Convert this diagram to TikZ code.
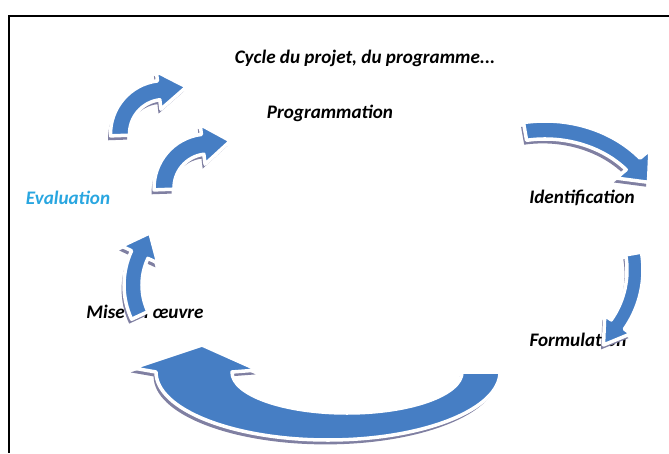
\documentclass[tikz,border=0pt]{standalone}
\usepackage{fontspec}
\setmainfont{Carlito}
\usetikzlibrary{calc}

\definecolor{cycleblue}{RGB}{70,126,196}
\definecolor{cycleshade}{RGB}{128,128,162}
\definecolor{evalblue}{RGB}{41,166,224}

% centre x, centre y, x radius, y radius, half width, start, end, head half width, head length
\newcommand{\cyclearrow}[9]{%
  \path[arrowbody] (#1,#2) ++(#6:{#3+#5} and {#4+#5})
    arc[start angle=#6, end angle=#7, x radius={#3+#5}, y radius={#4+#5}]
    -- ($(#1,#2)+(#7:{#3+#8} and {#4+#8})$)
    -- ($(#1,#2)+(#7:#3 and #4)+(#7+90:#9)$)
    -- ($(#1,#2)+(#7:{#3-#8} and {#4-#8})$)
    -- ($(#1,#2)+(#7:{#3-#5} and {#4-#5})$)
    arc[start angle=#7, end angle=#6, x radius={#3-#5}, y radius={#4-#5}]
    -- cycle;}

\begin{document}
\begin{tikzpicture}[x=0.025cm,y=0.025cm]
    \tikzset{stage/.style = {font=\bfseries\itshape\fontsize{13.6}{16}\selectfont, inner sep=0pt}}
    \tikzset{arrowbody/.style = {fill=cycleblue, draw=white, line width=2.5pt, line join=round,
        preaction={fill=cycleshade, transform canvas={xshift=-0.6mm, yshift=-1.1mm}}}}

    \useasboundingbox (0,0) rectangle (669,453);
    \draw[line width=1.2pt] (669,437) -- (9,437) -- (9,0);

    \node[stage] (titre) at (365,395) {Cycle du projet, du programme...};
    \node[stage] (progr) at (330,340) {Programmation};
    \node[stage] (ident) at (582,255) {Identification};
    \node[stage] (formu) at (578,113) {Formulation};
    \node[stage, text=evalblue] (evalu) at (68,255) {Evaluation};
    \node[stage] (mise) at (145,141) {Mise en œuvre};

    % small arrows round the cycle
    \cyclearrow{164}{319}{44}{44}{9.5}{182}{97}{19}{-28}
    \cyclearrow{208}{265}{44}{44}{10}{182}{97}{20}{-28}
    \cyclearrow{545}{228}{115}{95}{9}{100}{40}{22}{-24}
    \cyclearrow{540}{183}{95}{95}{8}{10}{-35}{16}{-25}
    \cyclearrow{205}{168}{72}{72}{9}{205}{155}{20}{-24}

    % big arrow at the bottom
    \path[arrowbody] (500,81) arc[start angle=0, end angle=-180, x radius=172, y radius=68]
        -- (133,85) -- (202,108) -- (258,83) -- (232,81)
        arc[start angle=-180, end angle=0, x radius=115, y radius=41] -- cycle;
\end{tikzpicture}
\end{document}
